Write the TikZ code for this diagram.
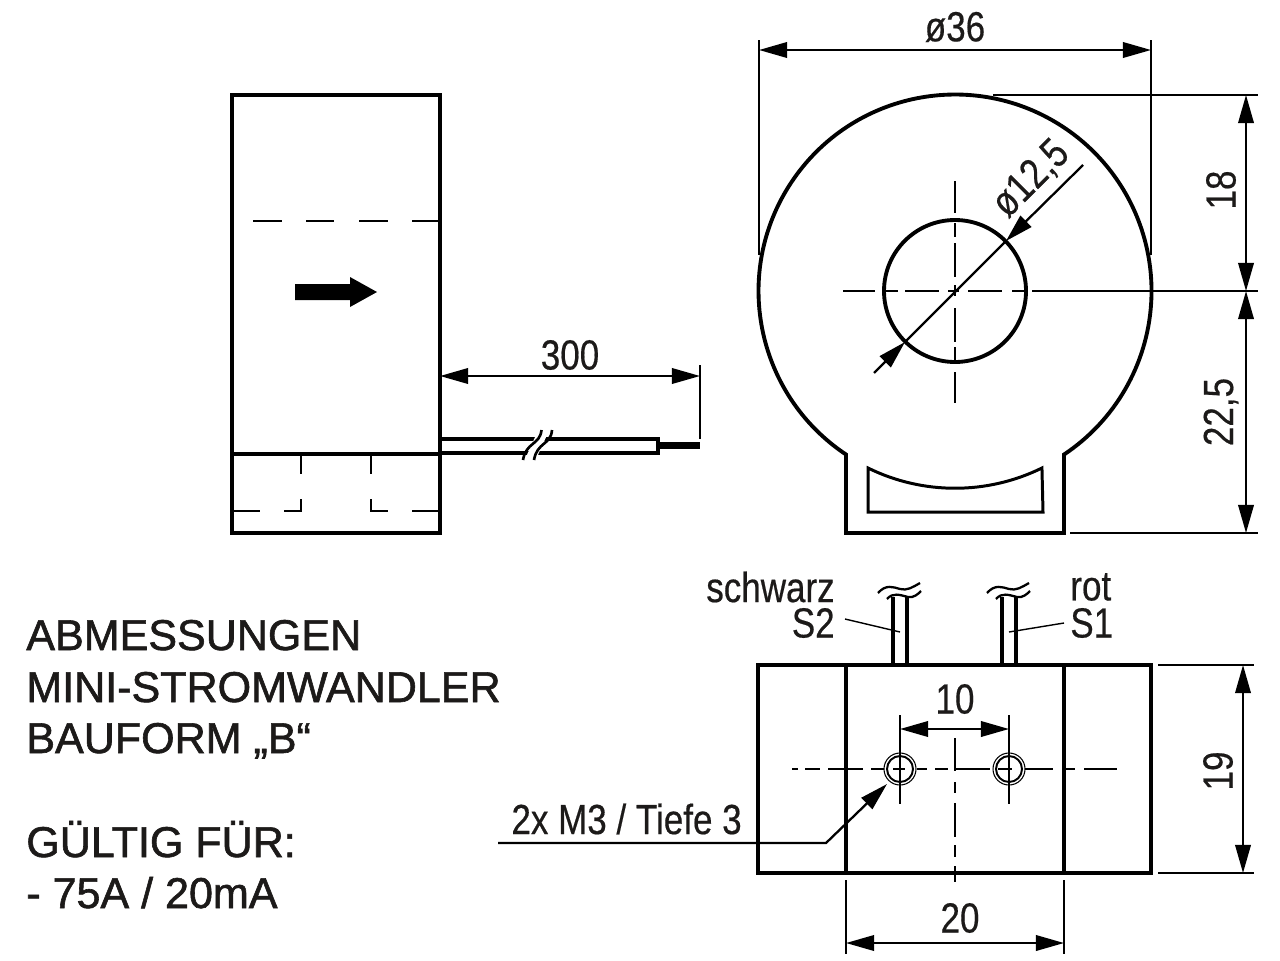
\documentclass[tikz,border=0pt]{standalone}
\usepackage{fontspec}
\usetikzlibrary{arrows.meta}
\newfontfamily\dimfont[FakeStretch=0.83,FakeBold=0.4]{Liberation Sans}
\newfontfamily\titlefont[FakeBold=1.4]{Liberation Sans}
\definecolor{inkblack}{HTML}{1C1A19}
\tikzset{
    outline/.style={line width=2.2pt, line join=miter},
    wireline/.style={line width=1.9pt},
    thinline/.style={line width=1.3pt},
    thickdash/.style={line width=1.5pt},
    dimline/.style={line width=1.3pt, {Triangle[length=16pt,width=8.8pt]}-{Triangle[length=16pt,width=8.8pt]}},
    tipline/.style={line width=1.3pt, -{Triangle[length=16pt,width=8.8pt]}},
    dimtext/.style={font=\dimfont\fontsize{24}{24}\selectfont, inner sep=0pt, text=inkblack},
    titletext/.style={font=\titlefont\fontsize{24.5}{25}\selectfont, inner sep=0pt, anchor=base west, text=inkblack}
}
\begin{document}
\begin{tikzpicture}[x=0.02cm, y=-0.02cm]
    \useasboundingbox (0, 0) rectangle (1280, 960);
    % side view
    \draw[outline] (232, 95) rectangle (440, 533);
    \draw[outline] (232, 454) -- (440, 454);
    \foreach \a/\b in {253/282, 306/334, 359/388, 412/440}
        \draw[thickdash] (\a, 221) -- (\b, 221);
    \fill (295, 284) -- (350, 284) -- (350, 277) -- (377, 292) -- (350, 307) -- (350, 300) -- (295, 300) -- cycle;
    \draw[thickdash] (301, 454) -- (301, 474) (301, 499) -- (301, 511) -- (284, 511);
    \draw[thickdash] (371, 454) -- (371, 474) (371, 499) -- (371, 511) -- (388, 511);
    \draw[thickdash] (232, 511) -- (260, 511) (412, 511) -- (440, 511);
    % cable
    \draw[outline] (440, 439) -- (658, 439) -- (658, 453) -- (440, 453);
    \draw[line width=3.9pt] (658, 445.5) -- (700, 445.5);
    \fill[white] (536, 435) -- (547, 435) -- (537, 457) -- (526, 457) -- cycle;
    \draw[thickdash] (541.5, 430) .. controls (540, 445) and (526, 442) .. (523, 460);
    \draw[thickdash] (552, 430) .. controls (551, 445) and (537, 442) .. (534, 460);
    \draw[thinline] (700, 365) -- (700, 439);
    \draw[dimline] (440, 376) -- (700, 376);
    \node[dimtext] (len) at (570, 355) {300};

    % front view
    \draw[outline] (846, 533) -- (846, 454.5) arc[start angle=236.3, end angle=-56.3, radius=196.5*0.02cm] -- (1064, 533) -- cycle;
    \draw[outline] (955, 291) circle[radius=71*0.02cm];
    \draw[line width=1.7pt] (868, 468) arc[start angle=243.8, end angle=296.2, radius=197*0.02cm] -- (1043, 512) -- (868, 512) -- cycle;
    \foreach \a/\b in {843/875, 884/898, 905/939, 948/959, 968/1002, 1012/1025, 1032/1065}
        \draw[thickdash] (\a, 291) -- (\b, 291);
    \foreach \a/\b in {181/213, 223/237, 243/277, 285/296, 308/342, 347/361, 372/403}
        \draw[thickdash] (955, \a) -- (955, \b);
    \draw[thinline] (905, 342) -- (1006, 241);
    \draw[tipline] (1083, 165) -- (1006, 241);
    \draw[tipline] (874, 373) -- (905, 342);
    \node[dimtext, rotate=45] (bore) at (1031, 179) {ø12,5};
    \draw[thinline] (759, 40) -- (759, 255);
    \draw[thinline] (1151, 40) -- (1151, 255);
    \draw[dimline] (759, 50) -- (1151, 50);
    \node[dimtext] (dia) at (955, 27) {ø36};
    \draw[thinline] (993, 95) -- (1258, 95);
    \draw[thinline] (1065, 291) -- (1258, 291);
    \draw[thinline] (1070, 533) -- (1258, 533);
    \draw[dimline] (1246, 95) -- (1246, 291);
    \draw[dimline] (1246, 291) -- (1246, 533);
    \node[dimtext, rotate=90] (upper) at (1221, 190) {18};
    \node[dimtext, rotate=90] (lower) at (1221, 412) {22,5};

    % bottom view
    \draw[outline] (758, 665) rectangle (1151, 873);
    \draw[outline] (846, 665) -- (846, 873);
    \draw[outline] (1064, 665) -- (1064, 873);
    \foreach \x in {900, 1009} {
        \draw[wireline] (\x-7, 665) -- (\x-7, 597);
        \draw[wireline] (\x+7, 665) -- (\x+7, 597);
        \draw[thinline] (\x-22, 593) .. controls (\x-14, 584) and (\x-7, 587) .. (\x, 589) .. controls (\x+7, 591) and (\x+13, 587) .. (\x+20, 583);
        \draw[thinline] (\x-13, 599) .. controls (\x-7, 592) and (\x, 595) .. (\x+8, 597) .. controls (\x+14, 598) and (\x+18, 594) .. (\x+21, 591);
        \draw[thinline] (\x, 715) -- (\x, 804);
        \draw[line width=0.6pt] (\x, 769) circle[radius=16*0.02cm];
        \draw[line width=1.1pt] (\x, 769) circle[radius=13*0.02cm];
    }
    \foreach \a/\b in {792/798, 805/820, 828/863, 871/884, 893/905, 917/927, 935/948, 955/990, 998/1012, 1025/1053, 1064/1075, 1084/1117}
        \draw[thickdash] (\a, 769) -- (\b, 769);
    \foreach \a/\b in {738/771, 782/793, 803/837, 845/857, 866/882}
        \draw[thickdash] (955, \a) -- (955, \b);
    \draw[dimline] (900, 729) -- (1009, 729);
    \node[dimtext] (pitch) at (955, 699) {10};
    \draw[thinline] (846, 880) -- (846, 954);
    \draw[thinline] (1064, 880) -- (1064, 954);
    \draw[dimline] (846, 943) -- (1064, 943);
    \node[dimtext] (width) at (960, 918) {20};
    \draw[thinline] (1158, 665) -- (1254, 665);
    \draw[thinline] (1158, 873) -- (1254, 873);
    \draw[dimline] (1243, 665) -- (1243, 873);
    \node[dimtext, rotate=90] (depth) at (1218, 771) {19};
    \node[dimtext, anchor=east] (black) at (835, 587) {schwarz};
    \node[dimtext, anchor=east] (s2) at (835, 623) {S2};
    \node[dimtext, anchor=west] (red) at (1070, 587) {rot};
    \node[dimtext, anchor=west] (s1) at (1070, 623) {S1};
    \draw[line width=0.8pt] (845, 619) -- (900, 632);
    \draw[line width=0.8pt] (1064, 623) -- (1009, 632);
    \node[dimtext, anchor=east] (thread) at (742, 819) {2x M3 / Tiefe 3};
    \draw[tipline] (498, 843) -- (826, 843) -- (887, 784);

    % text block
    \node[titletext] (t1) at (26, 650) {ABMESSUNGEN};
    \node[titletext] (t2) at (26, 702) {MINI-STROMWANDLER};
    \node[titletext] (t3) at (26, 753) {BAUFORM „B“};
    \node[titletext] (t4) at (26, 857) {GÜLTIG FÜR:};
    \node[titletext] (t5) at (26, 908) {- 75A / 20mA};
\end{tikzpicture}
\end{document}
